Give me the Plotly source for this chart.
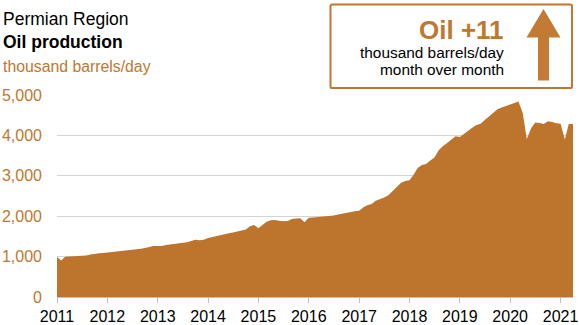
import pandas as pd
import plotly.graph_objects as go

# Monthly Permian crude oil production, thousand barrels/day (Jan 2011 - Apr 2021)
months = pd.date_range("2011-01-01", periods=124, freq="MS")
production = [
    # 2011
    990, 905, 995, 1000, 1000, 1005, 1015, 1030, 1050, 1070, 1080, 1090,
    # 2012
    1100, 1110, 1120, 1130, 1145, 1150, 1160, 1175, 1195, 1215, 1245, 1260,
    # 2013
    1260, 1265, 1290, 1300, 1310, 1320, 1335, 1355, 1385, 1420, 1405, 1420,
    # 2014
    1460, 1485, 1510, 1535, 1565, 1580, 1595, 1625, 1660, 1670, 1750, 1785,
    # 2015
    1700, 1790, 1860, 1900, 1905, 1890, 1875, 1880, 1930, 1940, 1950, 1850,
    # 2016
    1960, 1970, 1980, 1990, 1995, 2000, 2020, 2040, 2065, 2080, 2100, 2120,
    # 2017
    2135, 2220, 2270, 2300, 2380, 2420, 2460, 2520, 2630, 2740, 2830, 2870,
    # 2018
    2890, 3030, 3190, 3270, 3290, 3380, 3450, 3630, 3740, 3810, 3900, 3980,
    # 2019
    3960, 4040, 4130, 4190, 4260, 4290, 4380, 4470, 4540, 4650, 4690, 4720,
    # 2020
    4770, 4800, 4840, 4560, 3910, 4180, 4320, 4310, 4280, 4350, 4330, 4300,
    # 2021
    4290, 3900, 4280, 4280,
]
year_ticks = pd.date_range("2011-01-01", "2021-01-01", freq="YS")
year_labels = [str(d.year) for d in year_ticks]
y_ticks = [0, 1000, 2000, 3000, 4000, 5000]
y_labels = ["0", "1,000", "2,000", "3,000", "4,000", "5,000"]

W, H = 579, 325
ML, MR, MT, MB = 57, 6, 95, 28
FILL = "#BD742D"
TXT_ORANGE = "#C0772F"
FONT = "Liberation Sans, Arial, sans-serif"


def px(x):
    return (x - ML) / (W - ML - MR)


def py(y):
    return 1 - (y - MT) / (H - MT - MB)


fig = go.Figure()
fig.add_trace(go.Scatter(
    x=months, y=production, mode="lines", fill="tozeroy",
    line=dict(width=0, color=FILL), fillcolor=FILL,
    hoverinfo="x+y", showlegend=False,
))

# Rounded box around the month-over-month callout
x0, x1, y0, y1, r = px(330.5), px(572), py(4.5), py(88), 0.008
rx = r * (H - MT - MB) / (W - ML - MR)
box_path = (
    f"M {x0 + rx} {y0} L {x1 - rx} {y0} Q {x1} {y0} {x1} {y0 - r} "
    f"L {x1} {y1 + r} Q {x1} {y1} {x1 - rx} {y1} "
    f"L {x0 + rx} {y1} Q {x0} {y1} {x0} {y1 + r} "
    f"L {x0} {y0 - r} Q {x0} {y0} {x0 + rx} {y0} Z"
)

# Upward arrow
arrow_pts = [(543.5, 9), (560.5, 37.5), (549, 37.5), (549, 80.5),
             (538, 80.5), (538, 37.5), (526.5, 37.5)]
arrow_path = "M " + " L ".join(f"{px(a)} {py(b)}" for a, b in arrow_pts) + " Z"

fig.update_layout(
    width=W, height=H,
    margin=dict(l=ML, r=MR, t=MT, b=MB, pad=0, autoexpand=False),
    paper_bgcolor="white", plot_bgcolor="white",
    font=dict(family=FONT, size=16, color="black"),
    xaxis=dict(
        range=[months[0], months[-1]], automargin=False,
        tickvals=year_ticks, ticktext=year_labels,
        showgrid=False, showline=True, linecolor="#BFBFBF", linewidth=1,
        ticks="outside", ticklen=5, tickcolor="#BFBFBF", tickwidth=1,
        tickfont=dict(size=16, color="black", family=FONT),
        zeroline=False,
    ),
    yaxis=dict(
        range=[0, 5000], automargin=False,
        tickvals=y_ticks, ticktext=y_labels,
        showgrid=True, gridcolor="#D4D4D4", gridwidth=1.3,
        showline=False, zeroline=False, ticks="",
        ticklabelstandoff=14,
        tickfont=dict(size=16, color=TXT_ORANGE, family=FONT),
    ),
    shapes=[
        dict(type="path", xref="paper", yref="paper", path=box_path,
             line=dict(color=TXT_ORANGE, width=2), fillcolor="rgba(0,0,0,0)", layer="above"),
        dict(type="path", xref="paper", yref="paper", path=arrow_path,
             line=dict(width=0), fillcolor="#C27A35", layer="above"),
    ],
    annotations=[
        dict(text="Permian Region", x=px(1), y=py(19.5), xref="paper", yref="paper",
             xanchor="left", yanchor="middle", showarrow=False,
             font=dict(size=17.5, color="black")),
        dict(text="<b>Oil production</b>", x=px(1), y=py(41.5), xref="paper", yref="paper",
             xanchor="left", yanchor="middle", showarrow=False,
             font=dict(size=17.5, color="black")),
        dict(text="thousand barrels/day", x=px(1), y=py(66), xref="paper", yref="paper",
             xanchor="left", yanchor="middle", showarrow=False,
             font=dict(size=15.8, color=TXT_ORANGE)),
        dict(text="<b>Oil +11</b>", x=px(506), y=py(30.5), xref="paper", yref="paper",
             xanchor="right", yanchor="middle", showarrow=False,
             font=dict(size=26, color=TXT_ORANGE)),
        dict(text="thousand barrels/day", x=px(506), y=py(52.5), xref="paper", yref="paper",
             xanchor="right", yanchor="middle", showarrow=False,
             font=dict(size=15.4, color="black")),
        dict(text="month over month", x=px(506), y=py(70), xref="paper", yref="paper",
             xanchor="right", yanchor="middle", showarrow=False,
             font=dict(size=15.4, color="black")),
    ],
)

fig.write_html("out.html")
